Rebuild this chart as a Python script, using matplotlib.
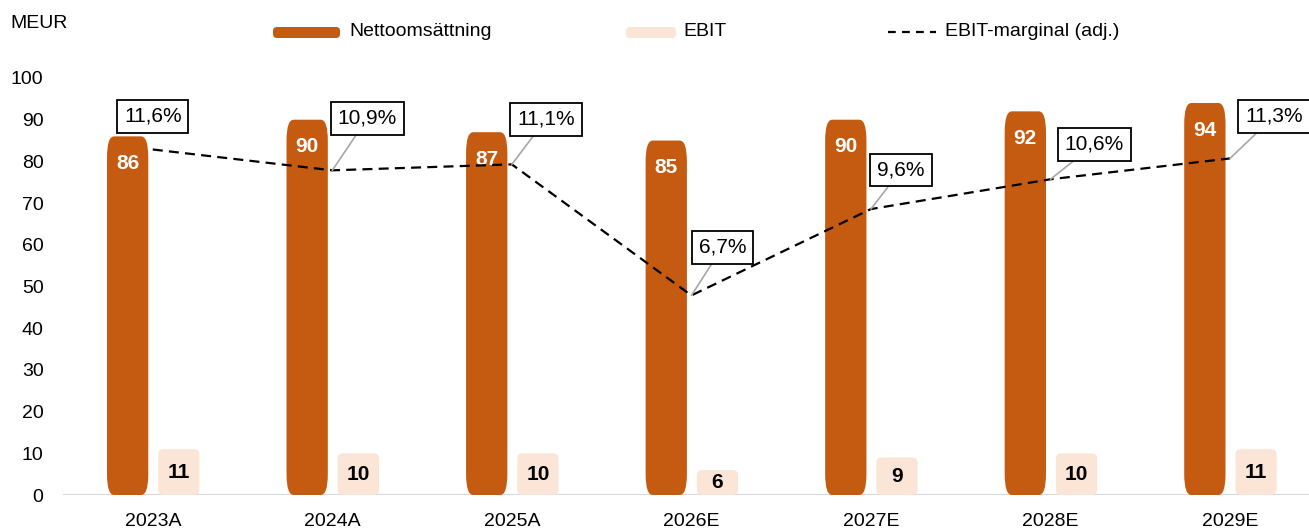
import matplotlib.pyplot as plt
from matplotlib.patches import FancyBboxPatch
from matplotlib.lines import Line2D

years = ["2023A", "2024A", "2025A", "2026E", "2027E", "2028E", "2029E"]
revenue = [86, 90, 87, 85, 90, 92, 94]
ebit = [11, 10, 10, 6, 9, 10, 11]
margin = [11.6, 10.9, 11.1, 6.7, 9.6, 10.6, 11.3]

# where each margin box sits relative to its point (pixels, right/up)
box_offsets = [(0, 33), (35, 52), (34, 45), (31, 48), (30, 39), (44, 35), (44, 42)]

ORANGE = "#C55A11"
PEACH = "#FBE5D6"

plt.rcParams["font.family"] = ["Liberation Sans Narrow", "Liberation Sans", "DejaVu Sans"]

W, H = 1309, 532
fig = plt.figure(figsize=(W / 100, H / 100), dpi=100)
ax = fig.add_axes([63 / W, 37 / H, 1 - 63 / W, 417 / H])
ax.set_xlim(-0.5, 6.44)
ax.set_ylim(0, 100)


def rounded_bar(xc, w, h, color, rx, ry):
    p = FancyBboxPatch((xc - w / 2, 0), w, h,
                       boxstyle=f"round,pad=0,rounding_size={rx}",
                       mutation_aspect=ry / rx, fc=color, ec="none", zorder=2)
    ax.add_patch(p)


bw = 0.23
for i, (r, e) in enumerate(zip(revenue, ebit)):
    rounded_bar(i - 0.14, bw, r, ORANGE, 0.04, 5.0)
    rounded_bar(i + 0.145, bw, e, PEACH, 0.03, 1.3)
    ax.annotate(str(r), (i - 0.14, r), xytext=(0, -27), textcoords="offset pixels",
                ha="center", va="center", color="white", fontweight="bold",
                fontsize=15, zorder=3)
    ax.text(i + 0.145, e / 2, str(e), ha="center", va="center", color="black",
            fontweight="bold", fontsize=15, zorder=3)

ax.axhline(0, color="#D9D9D9", lw=1.6, zorder=1)
ax.set_xticks(range(len(years)))
ax.set_xticklabels(years)
ax.set_yticks(range(0, 101, 10))
ax.tick_params(length=0, labelsize=14)
ax.tick_params(axis="y", pad=14)
ax.tick_params(axis="x", pad=13)
for s in ax.spines.values():
    s.set_visible(False)

# EBIT margin on its own hidden scale
ax2 = ax.twinx()
ax2.set_ylim(0, 14)
ax2.axis("off")
ax2.plot(range(len(margin)), margin, color="black", lw=1.6,
         linestyle=(0, (4.5, 2.8)), zorder=4)
for i, m in enumerate(margin):
    dx, dy = box_offsets[i]
    arrow = None
    if i > 0:
        arrow = dict(arrowstyle="-", color="#A6A6A6", lw=1.2, shrinkA=0, shrinkB=0)
    ax2.annotate(f"{m:.1f}%".replace(".", ","), (i, m), xytext=(dx, dy),
                 textcoords="offset pixels", ha="center", va="center", fontsize=15,
                 bbox=dict(boxstyle="square,pad=0.33", fc="white", ec="black", lw=1.3),
                 arrowprops=arrow, zorder=5)

# legend and unit label drawn in pixel space
top = fig.add_axes([0, 0, 1, 1])
top.set_xlim(0, W)
top.set_ylim(H, 0)
top.axis("off")
top.text(10, 24, "MEUR", ha="left", va="center", fontsize=14)
top.add_patch(FancyBboxPatch((273, 27), 67, 11, boxstyle="round,pad=0,rounding_size=4",
                             fc=ORANGE, ec="none"))
top.text(349, 32, "Nettoomsättning", ha="left", va="center", fontsize=14)
top.add_patch(FancyBboxPatch((626, 27), 50, 11, boxstyle="round,pad=0,rounding_size=4",
                             fc=PEACH, ec="none"))
top.text(683, 32, "EBIT", ha="left", va="center", fontsize=14)
top.add_line(Line2D([888, 936], [32, 32], color="black", lw=1.6, linestyle=(0, (3.5, 2.8))))
top.text(945, 32, "EBIT-marginal (adj.)", ha="left", va="center", fontsize=14)

fig.savefig("out.png", dpi=100)
